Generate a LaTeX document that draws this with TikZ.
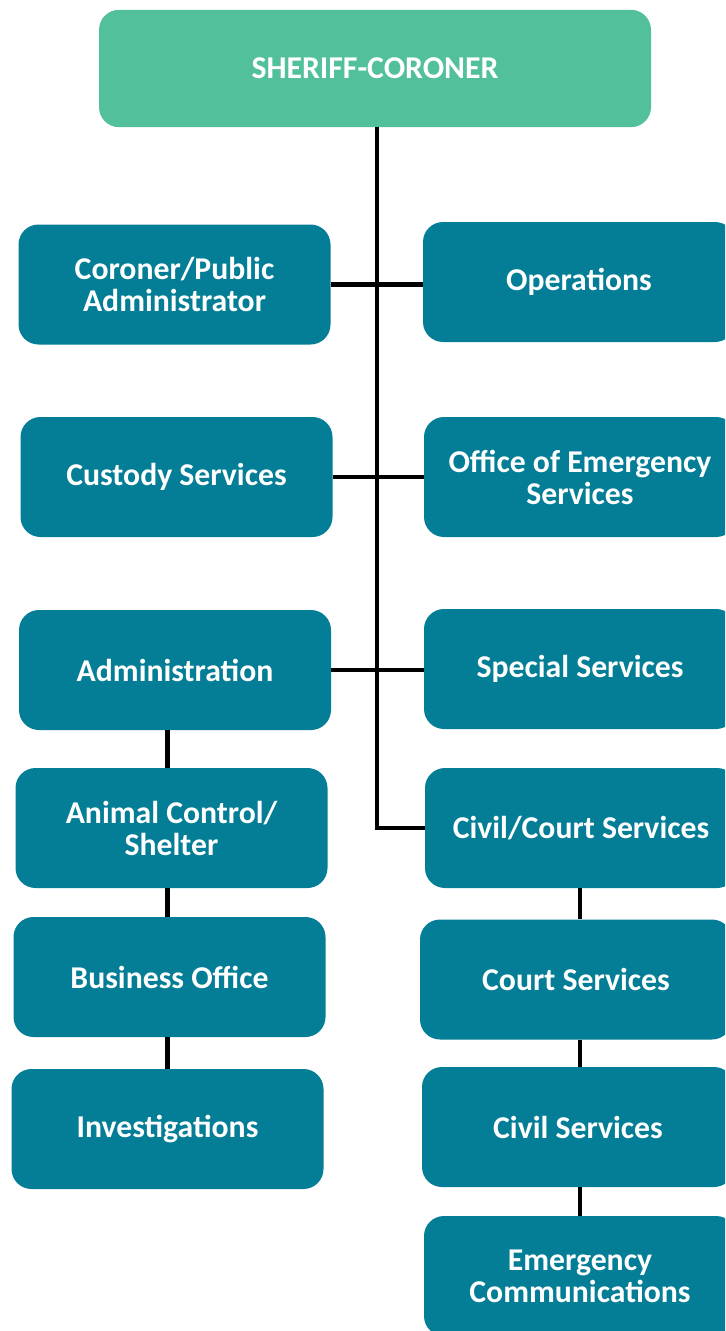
\documentclass[tikz,border=0pt]{standalone}
\usepackage{fontspec}
\setmainfont{Carlito}
\usetikzlibrary{positioning}
\definecolor{chiefgreen}{RGB}{82, 192, 155}
\definecolor{unitteal}{RGB}{3, 126, 150}

\begin{document}
\begin{tikzpicture}[x=0.75pt, y=-0.75pt,
  unitbox/.style={fill=unitteal, rounded corners=15pt, text=white, align=center, inner sep=0pt,
    font=\bfseries\fontsize{23.8}{24}\selectfont, minimum width=234pt, minimum height=90pt},
  chiefbox/.style={unitbox, fill=chiefgreen, minimum width=414pt, minimum height=88pt},
  link/.style={line width=3.2pt, draw=black}]
  \clip (0,0) rectangle (725,1331);
  \useasboundingbox (0,0) rectangle (725,1331);

  % Head of department
  \node[chiefbox] (chief) at (375, 68.5) {SHERIFF-CORONER};

  % Left column
  \node[unitbox] (coroner) at (174.5, 284.5) {Coroner/Public\\Administrator};
  \node[unitbox] (custody) at (176.5, 477) {Custody Services};
  \node[unitbox] (admin) at (175, 670) {Administration};
  \node[unitbox] (animal) at (171.5, 828) {Animal Control/\\Shelter};
  \node[unitbox] (business) at (169.5, 977) {Business Office};
  \node[unitbox] (investig) at (167.5, 1129) {Investigations};

  % Right column
  \node[unitbox] (ops) at (579, 282) {Operations};
  \node[unitbox] (oes) at (580, 477) {Office of Emergency\\Services};
  \node[unitbox] (special) at (580, 669) {Special Services};
  \node[unitbox] (civcourt) at (581, 828) {Civil/Court Services};
  \node[unitbox] (court) at (576, 979.5) {Court Services};
  \node[unitbox] (civilsvc) at (578, 1127) {Civil Services};
  \node[unitbox] (emerg) at (580, 1276) {Emergency\\Communications};

  % Trunk and branches
  \coordinate (trunk) at ([xshift=1.5pt]chief.south);
  \draw[link] (trunk) -- (trunk |- civcourt.west) -- (civcourt.west);
  \draw[link] (coroner.east) -- (coroner.east -| ops.west);
  \draw[link] (custody.east) -- (oes.west);
  \draw[link] (admin.east) -- (admin.east -| special.west);

  % Sub-units
  \draw[link] (admin.south -| investig.north) -- (animal.north -| investig.north);
  \draw[link] (animal.south -| investig.north) -- (business.north -| investig.north);
  \draw[link] (business.south -| investig.north) -- (investig.north);
  \draw[link] (civcourt.south -| emerg.north) -- (court.north -| emerg.north);
  \draw[link] (court.south -| emerg.north) -- (civilsvc.north -| emerg.north);
  \draw[link] (civilsvc.south -| emerg.north) -- (emerg.north);
\end{tikzpicture}
\end{document}
